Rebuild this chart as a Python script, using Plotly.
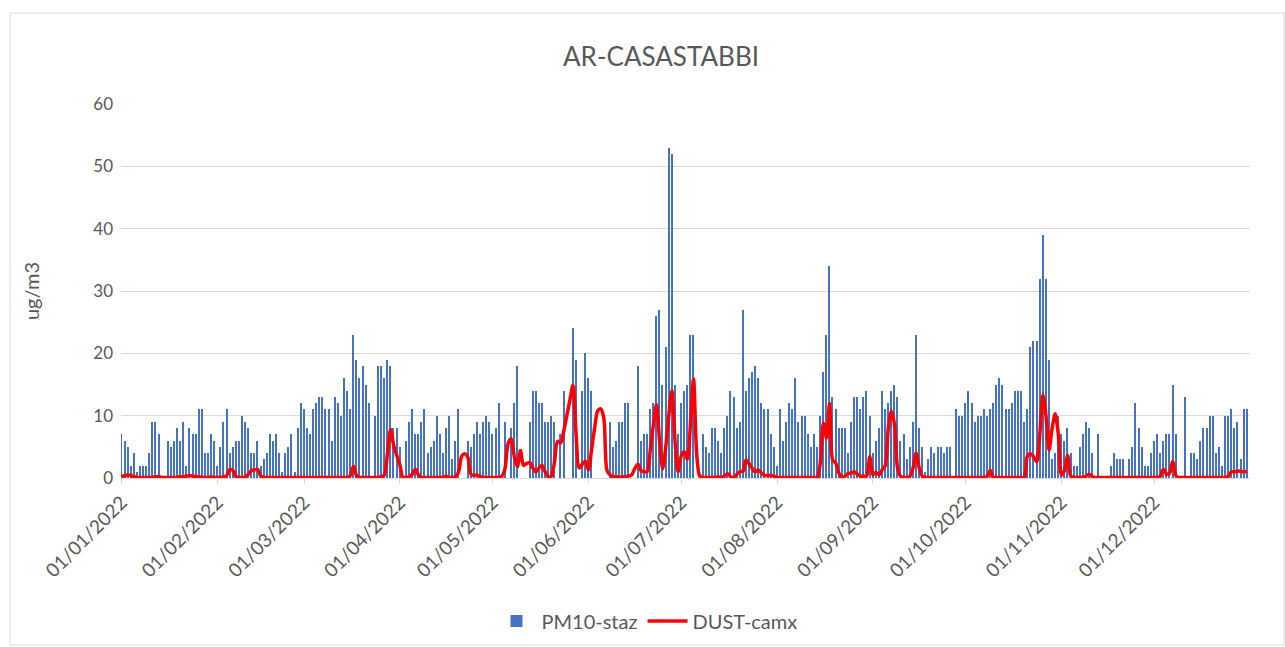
import pandas as pd
import plotly.graph_objects as go

# Daily PM10 measured at the station (ug/m3); None = no measurement
pm10_jan = [7, 6, 5, 2, 4, 1, 2, 2, 2, 4, 9, 9, 7, None, None, 6, 5, 6, 8, 6, 9, 2, 8, 7, 7, 11, 11, 4, 4, 7, 6]
pm10_feb = [2, 5, 9, 11, 4, 5, 6, 6, 10, 9, 8, 4, 4, 6, 2, 3, 4, 7, 6, 7, 4, 1, 4, 5, 7, 1, 8, 12]
pm10_mar = [11, 8, 7, 11, 12, 13, 13, 11, 11, 6, 13, 12, 10, 16, 14, 11, 23, 19, 16, 18, 15, 12, None, 10, 18, 18, 16, 19, 18, 8, 8]
pm10_apr = [5, None, 6, 9, 11, 7, 7, 9, 11, 4, 5, 6, 10, 7, 4, 8, 10, 3, 6, 11, None, None, 6, 5, 7, 9, 7, 9, 10, 9]
pm10_may = [7, 8, 12, None, 9, None, 8, 12, 18, None, None, None, 9, 14, 14, 12, 12, 9, 9, 10, 9, None, 7, 14, None, None, 24, 19, None, 14, 20]
pm10_jun = [16, 14, None, None, None, None, None, 9, 5, 6, 9, 9, 12, 12, None, None, 18, 6, 7, 7, 11, 12, 26, 27, 15, 21, 53, 52, 15, 7]
pm10_jul = [12, 14, 15, 23, 23, None, None, 7, 5, 4, 8, 8, 6, 4, 8, 10, 14, 13, 8, 9, 27, 14, 16, 17, 18, 16, 12, 11, 11, 7, 5]
pm10_aug = [2, 11, 6, 9, 12, 11, 16, 9, 10, 10, 7, 5, 7, 5, 10, 17, 23, 34, 13, 11, 8, 8, 8, 4, 9, 13, 13, 11, 13, 14, 10]
pm10_sep = [4, 6, 8, 14, 11, 12, 14, 15, 13, 6, 7, 3, 5, 9, 23, 8, 5, 1, 3, 5, 4, 5, 5, 4, 5, 5, None, 11, 10, 10]
pm10_oct = [12, 14, 12, 9, 10, 10, 11, 10, 11, 12, 15, 16, 15, 11, 11, 12, 14, 14, 14, 9, 11, 21, 22, 22, 32, 39, 32, 19, 3, 4, 10]
pm10_nov = [7, 6, 8, 4, 2, 2, 5, 7, 9, 8, 4, None, 7, None, None, None, 2, 4, 3, 3, 3, None, 3, 5, 12, 8, 5, 2, 2, 4]
pm10_dec = [6, 7, 4, 6, 7, 7, 15, 7, None, None, 13, None, 4, 4, 3, 6, 8, 8, 10, 10, 4, 5, 2, 10, 10, 11, 8, 9, 3, 11, 11]

# Daily modelled desert dust (CAMx) at the same site (ug/m3)
dust_jan = [0.2, 0.4, 0.5, 0.4, 0.2, 0.1, 0.1, 0.1, 0.1, 0.1, 0.1, 0.2, 0.2, 0.1, 0.1, 0.1, 0.1, 0.1, 0.1, 0.2, 0.2, 0.3, 0.4, 0.3, 0.2, 0.2, 0.1, 0.1, 0.1, 0.2, 0.1]
dust_feb = [0.1, 0.1, 0.2, 0.4, 1.4, 1.2, 0.2, 0.1, 0.1, 0.2, 0.6, 1.2, 1.3, 1.4, 0.3, 0.1, 0.1, 0.1, 0.1, 0.1, 0.1, 0.1, 0.1, 0.1, 0.1, 0.1, 0.1, 0.1]
dust_mar = [0.1, 0.1, 0.1, 0.1, 0.1, 0.1, 0.1, 0.1, 0.1, 0.1, 0.1, 0.1, 0.1, 0.1, 0.1, 0.4, 1.9, 0.4, 0.1, 0.1, 0.1, 0.1, 0.1, 0.1, 0.1, 0.2, 0.5, 4.0, 7.8, 5.2, 3.6]
dust_apr = [2.1, 0.1, 0.1, 0.2, 0.6, 1.4, 0.5, 0.1, 0.1, 0.1, 0.1, 0.1, 0.1, 0.1, 0.1, 0.3, 0.1, 0.1, 0.2, 1.0, 3.5, 3.9, 3.3, 0.6, 0.4, 0.5, 0.2, 0.1, 0.1, 0.1]
dust_may = [0.1, 0.1, 0.1, 0.3, 1.5, 5.5, 6.3, 3.5, 1.8, 4.4, 2.0, 2.3, 2.5, 1.6, 1.0, 1.6, 2.0, 1.0, 0.2, 0.3, 2.5, 5.9, 5.6, 7.5, 10.0, 12.5, 14.9, 7.0, 1.6, 2.2, 2.7]
dust_jun = [1.3, 4.5, 8.0, 10.8, 11.1, 9.5, 1.2, 0.5, 0.2, 0.2, 0.1, 0.2, 0.2, 0.3, 0.5, 1.5, 2.2, 1.2, 1.0, 1.0, 4.5, 8.5, 11.8, 6.0, 1.5, 5.0, 10.0, 14.0, 6.0, 1.0]
dust_jul = [3.5, 4.2, 3.0, 8.7, 15.9, 4.0, 0.3, 0.1, 0.1, 0.1, 0.1, 0.1, 0.2, 0.1, 0.3, 0.7, 0.2, 0.1, 0.6, 1.0, 1.1, 2.9, 2.3, 1.5, 1.0, 1.3, 0.8, 0.4, 0.4, 0.4, 0.3]
dust_aug = [0.1, 0.1, 0.1, 0.1, 0.1, 0.1, 0.1, 0.1, 0.1, 0.1, 0.1, 0.1, 0.1, 0.1, 2.4, 8.8, 6.4, 12.0, 2.9, 2.4, 0.8, 0.1, 0.3, 0.7, 0.8, 1.0, 0.6, 0.3, 0.3, 0.3, 3.4]
dust_sep = [0.5, 0.9, 0.5, 1.3, 2.0, 8.0, 10.7, 8.6, 1.6, 0.3, 0.1, 0.1, 0.3, 1.6, 4.0, 1.6, 0.3, 0.1, 0.1, 0.1, 0.1, 0.1, 0.1, 0.1, 0.1, 0.1, 0.1, 0.1, 0.1, 0.1]
dust_oct = [0.1, 0.1, 0.1, 0.1, 0.1, 0.1, 0.1, 0.3, 1.2, 0.1, 0.1, 0.1, 0.1, 0.1, 0.1, 0.1, 0.1, 0.1, 0.1, 0.1, 3.5, 3.9, 3.4, 2.6, 7.0, 13.3, 10.0, 4.5, 8.0, 10.3, 7.0]
dust_nov = [0.5, 1.2, 3.6, 0.3, 0.1, 0.1, 0.1, 0.1, 0.3, 0.6, 0.2, 0.1, 0.1, 0.1, 0.1, 0.1, 0.1, 0.1, 0.1, 0.1, 0.1, 0.1, 0.1, 0.1, 0.1, 0.1, 0.1, 0.1, 0.1, 0.1]
dust_dec = [0.1, 0.1, 0.3, 1.4, 0.6, 0.8, 2.7, 0.4, 0.1, 0.1, 0.1, 0.1, 0.1, 0.1, 0.1, 0.1, 0.1, 0.1, 0.1, 0.1, 0.1, 0.1, 0.1, 0.1, 0.3, 1.0, 1.0, 1.1, 1.1, 1.0, 1.0]

month_starts = ["2022-%02d-01" % m for m in range(1, 13)]
month_labels = ["01/%02d/2022" % m for m in range(1, 13)]

pm10 = (pm10_jan + pm10_feb + pm10_mar + pm10_apr + pm10_may + pm10_jun
        + pm10_jul + pm10_aug + pm10_sep + pm10_oct + pm10_nov + pm10_dec)
dust = (dust_jan + dust_feb + dust_mar + dust_apr + dust_may + dust_jun
        + dust_jul + dust_aug + dust_sep + dust_oct + dust_nov + dust_dec)
days = pd.date_range("2022-01-01", "2022-12-31", freq="D")

FONT = "Lato, 'Open Sans', sans-serif"
GREY = "#595959"
DAY_MS = 86400000

fig = go.Figure()
fig.add_trace(go.Bar(
    x=days, y=pm10, name="PM10-staz",
    marker=dict(color="#4472C4", line=dict(width=0)),
    width=0.45 * DAY_MS,
))
fig.add_trace(go.Scatter(
    x=days, y=dust, name="DUST-camx", mode="lines",
    line=dict(color="#FF0000", width=3.5, shape="spline", smoothing=0.8),
))

fig.update_layout(
    width=1285, height=647,
    margin=dict(l=121, r=35, t=104, b=169),
    paper_bgcolor="white", plot_bgcolor="white",
    font=dict(family=FONT, color=GREY, size=17),
    title=dict(text="AR-CASASTABBI", x=661 / 1285, xref="container", xanchor="center",
               y=1 - 57 / 647, yref="container", yanchor="middle",
               font=dict(size=26, color=GREY, family=FONT)),
    bargap=0,
    showlegend=True,
    legend=dict(orientation="h", xref="container", x=647 / 1285, xanchor="center",
                yref="container", y=1 - 621 / 647, yanchor="middle",
                font=dict(size=20, color=GREY), itemwidth=40,
                traceorder="normal"),
    xaxis=dict(
        type="date",
        range=["2021-12-31 19:00", "2023-01-01"],
        tickvals=month_starts, ticktext=month_labels,
        tickangle=-45, tickfont=dict(size=19, color=GREY),
        showgrid=False, showline=True, linecolor="#d9d9d9", linewidth=1,
        ticks="outside", ticklen=5, tickcolor="#d9d9d9",
        zeroline=False,
    ),
    yaxis=dict(
        range=[0, 60], dtick=10, tick0=0,
        tickfont=dict(size=17, color=GREY), ticklabelstandoff=7,
        showgrid=True, gridcolor="#d9d9d9", gridwidth=1,
        zeroline=False, showline=False,
        title=dict(text="ug/m3", font=dict(size=20, color=GREY), standoff=48),
    ),
    shapes=[dict(type="rect", xref="paper", yref="paper",
                 x0=(10 - 121) / 1129, x1=(1284 - 121) / 1129,
                 y0=(478 - 645) / 374, y1=(478 - 13) / 374,
                 line=dict(color="#d9d9d9", width=1), fillcolor="rgba(0,0,0,0)",
                 layer="below")],
)

fig.write_html("out.html")
